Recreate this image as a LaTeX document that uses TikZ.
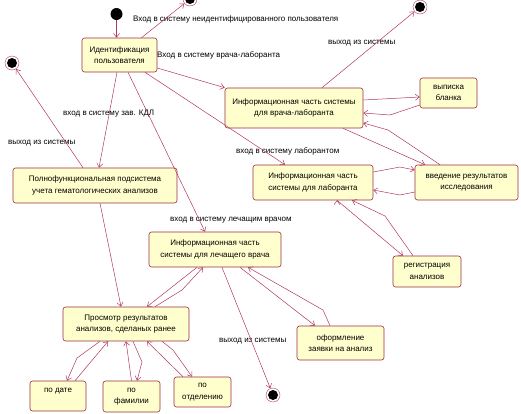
\documentclass[tikz,border=0pt]{standalone}
\usepackage{fontspec}
\setmainfont{Liberation Sans}
\usetikzlibrary{arrows.meta}
\definecolor{linje}{RGB}{175,55,95}
\definecolor{kant}{RGB}{155,45,65}
\definecolor{gul}{RGB}{255,255,206}

\begin{document}
\begin{tikzpicture}[
    x=1pt, y=-1pt,
    punkt/.style = {rectangle, rounded corners=2.5pt, draw=kant, fill=gul, line width=0.6pt,
                    align=center, inner sep=1pt},
    slut/.style = {circle, draw=linje, fill=white, minimum size=14pt, inner sep=0pt,
                   path picture={\fill[black] (path picture bounding box.center) circle (5pt);}},
    begynd/.style = {circle, fill=black, minimum size=12pt, inner sep=0pt},
    pil/.style = {linje, line width=0.5pt, -{Straight Barb[length=4pt, width=6pt]}},
    tekst/.style = {anchor=west, inner sep=0pt},
    font=\fontsize{8}{11.5}\selectfont
    ]
  \useasboundingbox (0,0) rectangle (521,413);

  % start and end states
  \node[begynd] (start) at (116.5,14) {};
  \node[slut] (e1) at (190,-1) {};
  \node[slut] (e2) at (420,7) {};
  \node[slut] (e3) at (12,63) {};
  \node[slut] (e4) at (273,395) {};

  % states
  \node[punkt, minimum width=75pt, minimum height=34pt] (ident) at (119.5,55) {Идентификация\\пользователя};
  \node[punkt, minimum width=138pt, minimum height=40pt] (vlab) at (294,108) {Информационная часть системы\\для врача-лаборанта};
  \node[punkt, minimum width=57pt, minimum height=30pt] (vyp) at (448.5,93) {выписка\\бланка};
  \node[punkt, minimum width=103pt, minimum height=35pt] (vved) at (466.5,182.5) {введение результатов\\исследования};
  \node[punkt, minimum width=120pt, minimum height=35pt] (lab) at (313,182.5) {Информационная часть\\системы для лаборанта};
  \node[punkt, minimum width=68pt, minimum height=31pt] (reg) at (427,271.5) {регистрация\\анализов};
  \node[punkt, minimum width=164pt, minimum height=35pt] (poln) at (95,185.5) {Полнофункциональная подсистема\\учета гематологических анализов};
  \node[punkt, minimum width=132pt, minimum height=35pt] (lech) at (215,249.5) {Информационная часть\\системы для лечащего врача};
  \node[punkt, minimum width=126pt, minimum height=34pt] (prosm) at (126,324) {Просмотр результатов\\анализов, сделаных ранее};
  \node[punkt, minimum width=56pt, minimum height=30pt] (data) at (58,396) {по дате\\\phantom{x}};
  \node[punkt, minimum width=57pt, minimum height=31pt] (fam) at (131.5,396.5) {по\\фамилии};
  \node[punkt, minimum width=57pt, minimum height=30pt] (otd) at (202.5,392) {по\\отделению};
  \node[punkt, minimum width=87pt, minimum height=34pt] (zayav) at (340.5,343) {оформление\\заявки на анализ};

  % labels
  \node[tekst] (l1) at (133,19) {Вход в систему неидентифицированного пользователя};
  \node[tekst] (l2) at (157,55) {Вход в систему врача-лаборанта};
  \node[tekst] (l3) at (328,43) {выход из системы};
  \node[tekst] (l4) at (63,114) {вход в систему зав. КДЛ};
  \node[tekst] (l5) at (8,143) {выход из системы};
  \node[tekst] (l6) at (236,151) {вход в систему лаборантом};
  \node[tekst] (l7) at (170,220) {вход в систему лечащим врачом};
  \node[tekst] (l8) at (219,341) {выход из системы};

  \draw[pil]
  (start) edge (start |- ident.north)
  ([xshift=22pt]ident.north) edge (e1)
  ([yshift=-13pt]ident.east) edge (vlab.north west)
  ([xshift=28pt]vlab.north) edge (e2)
  ([xshift=-2.5pt]ident.south) edge ([xshift=4pt]poln.north)
  ([xshift=8.5pt]ident.south) edge ([xshift=-10pt]lech.north)
  ([xshift=25.5pt]ident.south) edge ([xshift=-28pt]lab.north)
  ([xshift=-12pt]poln.north) edge (e3)
  ([xshift=5pt]poln.south) edge ([xshift=-5pt]prosm.north)
  ([xshift=-18pt]lech.south) edge ([xshift=21pt]prosm.north)
  ([xshift=7pt]lech.south) edge (e4)
  ([xshift=25pt]lech.south) edge ([xshift=-25.5pt]zayav.north)
  ([xshift=17pt]data.north) edge ([xshift=-18pt]prosm.south)
  (fam.north) edge (prosm.south)
  ([xshift=-19.5pt]otd.north) edge ([xshift=21pt]prosm.south)
  ([yshift=8pt]vlab.east) edge ([yshift=-4pt]vyp.west)
  ([xshift=49pt]vlab.south) edge ([xshift=-41.5pt]vved.north)
  ([xshift=24pt]lab.south) edge ([xshift=-24pt]reg.north) ;

  % return paths with a kink
  \draw[pil] ([xshift=29pt]prosm.north) -- (182,290) -- ([xshift=-12pt]lech.south);
  \draw[pil] ([xshift=-10.5pt]zayav.north) -- (323,310) -- ([xshift=33pt]lech.south);
  \draw[pil] ([xshift=-26pt]prosm.south) -- (77,358) -- ([xshift=9pt]data.north);
  \draw[pil] ([xshift=7pt]prosm.south) -- (142,362) -- ([xshift=5.5pt]fam.north);
  \draw[pil] ([xshift=36pt]prosm.south) -- (173,350) -- ([xshift=-10.5pt]otd.north);
  \draw[pil] ([yshift=-12pt]vyp.west) -- (390,115) -- ([yshift=-5pt]vlab.east);
  \draw[pil] ([xshift=-26.5pt]vved.north) -- (388,130) -- ([yshift=-15pt]vlab.east);
  \draw[pil] ([yshift=10.5pt]lab.east) -- (400,167) -- ([yshift=12.5pt]vved.west);
  \draw[pil] ([yshift=-9.5pt]vved.west) -- (400,195) -- ([yshift=-7.5pt]lab.east);
  \draw[pil] ([xshift=-14pt]reg.north) -- (385,216) -- ([xshift=39pt]lab.south);

\end{tikzpicture}
\end{document}
